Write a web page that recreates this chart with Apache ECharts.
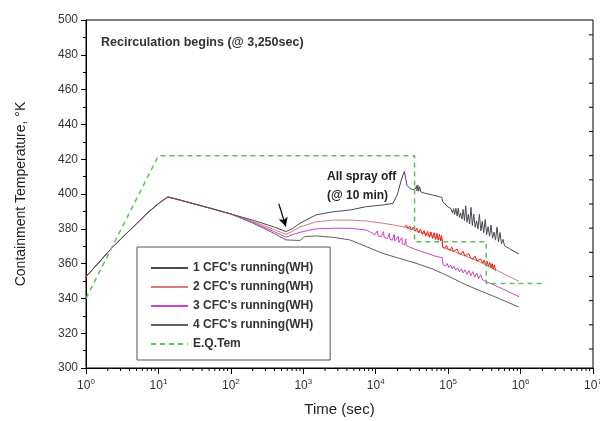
<!DOCTYPE html>
<html><head><meta charset="utf-8">
<script src="https://cdn.jsdelivr.net/npm/echarts@6/dist/echarts.min.js"></script>
<style>html,body{margin:0;padding:0;background:#fff}#c{width:600px;height:421px}</style>
</head><body><div id="c"></div>
<script>
const FONT = '"Liberation Sans", Arial, sans-serif';

const seriesNames = ["1 CFC's running(WH)", "2 CFC's running(WH)", "3 CFC's running(WH)", "4 CFC's running(WH)", "E.Q.Tem"];

// [time (sec), temperature (K)]
const cfc1 = [[1,352.5],[1.5,360.5],[2,366.5],[3,374],[5,383],[7,389],[10,394.5],[13.5,398.3],[20,396.5],[30,394.5],[50,392],[100,388.5],
  [200,385],[400,381],[575,378.4],[700,380],[900,383.2],[1500,388],[2600,389.8],[4400,390.8],[7400,392.7],[12500,393.7],[17300,394.6],
  [20000,400],[22500,408],[24800,413],[27000,405],[30000,403],[33000,402.5],[35500,403.2],[36500,404.8],[37200,401.8],[38200,405.2],
  [39200,401.6],[40500,404.2],[42000,401.2],[47200,400.5],[60000,399.5],[76000,398.4],[82000,398],[84000,395.6],[100000,392.5],
  [110000,391.5],[115000,389],
  [119000,391.6],[123000,388.2],[128000,391.8],[133000,387.3],[138000,391.9],[143000,386.5],[149000,389.1],[155000,385.6],
  [161000,391.2],[168000,384.7],[175000,393.2],[182000,383.8],[190000,388.3],[198000,382.8],[207000,392.3],[216000,381.9],
  [226000,388.4],[236000,380.9],[247000,384.4],[258000,379.9],[270000,388.3],[283000,378.8],[296000,384.3],[310000,377.8],
  [325000,385.3],[340000,376.7],[356000,381.2],[373000,375.7],[391000,382.2],[410000,374.6],[430000,378.1],[451000,373.5],
  [473000,381.0],[496000,372.5],[520000,377.9],[545000,371.4],[572000,373.9],[600000,370.3],[633000,369.7],[700000,368.6],[950000,365.5]];

const cfc2 = [[1,352.5],[1.5,360.5],[2,366.5],[3,374],[5,383],[7,389],[10,394.5],[13.5,398.3],[20,396.5],[30,394.5],[50,392],[100,388.5],
  [200,384.3],[400,379.5],[575,376.8],[700,378.5],[900,381],[1500,384],[2600,385],[4400,385],[7400,384.5],[12500,383.2],[20000,381.8],
  [25000,381],[35000,379],[50000,376.8],[65000,375.3],[83000,373.6],[84000,369.4],[100000,368.2],[150000,365.4],[220000,362.6],
  [300000,360.2],[460000,356.3],[600000,354],[865000,350.6],[950000,349.8]];

const cfc2Noise = [[25000,381.0],[26500,382.2],[28000,380.2],[29500,381.6],[31000,379.4],[33000,381.0],[35000,378.6],[37000,380.4],
  [39000,377.6],[41500,379.8],[44000,376.8],[46500,379.0],[49000,375.8],[52000,378.6],[55000,375.0],[58000,378.2],[61000,374.4],
  [64000,377.8],[67000,373.8],[70000,377.4],[73000,373.4],[76000,377.0],[79000,373.0],[81000,376.0],[83000,373.0],[84000,369.4],
  [90000,368.8],[95000,370.5],[100000,368.2],[107000,367.7],[112000,369.6],[118000,367.0],[125000,366.6],[133000,368.4],
  [140000,365.9],[150000,365.4],[160000,367.1],[170000,364.5],[180000,364.1],[192000,365.8],[205000,363.2],[220000,362.6],
  [235000,364.2],[250000,361.6],[265000,361.1],[282000,362.6],[300000,360.2],[315000,362.0],[330000,359.0],[345000,361.4],
  [360000,358.4],[375000,360.8],[390000,357.6],[405000,360.0],[420000,356.8],[435000,359.2],[450000,356.0],[460000,356.3]];

const cfc3 = [[1,352.5],[1.5,360.5],[2,366.5],[3,374],[5,383],[7,389],[10,394.5],[13.5,398.3],[20,396.5],[30,394.5],[50,392],[100,388.5],
  [200,383.8],[400,378.3],[575,375.2],[700,376.5],[900,378],[1500,380],[2600,380.3],[4400,380.3],[7400,379.3],[9000,377.5],
  [9600,376.4],[10500,378.8],[10800,376.0],[12000,375.4],[12800,378.4],[13100,375.0],[14500,374.4],[15400,377.6],[15700,374.0],
  [17000,373.4],[18000,376.8],[18300,373.0],[19500,372.5],[20500,375.8],[20800,372.1],[22000,371.7],[23000,375.0],[23300,371.3],
  [25000,370.8],[26000,374.2],[26300,370.4],[28000,369.9],[29000,369.6],[35000,368.2],[50000,366],[70000,364],[83000,363.4],
  [85000,359.5],[88000,360.6],[92000,358.6],[97000,360.0],[102000,357.8],[108000,359.2],[114000,357.0],[120000,358.4],
  [127000,356.2],[135000,357.6],[143000,355.4],[152000,357.0],[161000,354.6],[171000,356.4],[182000,353.8],[194000,356.0],
  [206000,353.0],[219000,355.4],[233000,352.2],[248000,354.6],[264000,351.4],[281000,353.6],[300000,350.6],[320000,350.0],
  [500000,346.5],[950000,341]];

const cfc4 = [[1,352.5],[1.5,360.5],[2,366.5],[3,374],[5,383],[7,389],[10,394.5],[13.5,398.3],[20,396.5],[30,394.5],[50,392],[100,388.5],
  [200,383.3],[400,377.3],[575,373.6],[900,373.3],[1050,375.5],[1500,375.9],[2600,375.1],[4400,373.6],[7400,369.8],[12500,365.9],
  [21300,363],[36000,360.2],[60000,357],[83000,354.4],[85000,355],[90000,353.8],[178000,347.7],[500000,340],[950000,335]];

const eqTem = [[1,340],[10,422],[34400,422],[34400,372.5],[336000,372.5],[336000,348.5],[2200000,348.5]];

const yMin = 300, yMax = 500, yStep = 20;
const xMin = 1, xMax = 1e7;
const rightTicksF = [100,125,150,175,200,225,250,275,300,325,350,375,400,425];
const minorX = [];
for (let e = 0; e < 7; e++) for (let k = 2; k <= 9; k++) minorX.push([k * Math.pow(10, e)]);
const arrowFrom = [460, 394.3], arrowTo = [574, 381.3];

const chart = echarts.init(document.getElementById('c'), null, {renderer: 'canvas'});

const lineBase = (name, data, color, z) => ({
  name, type: 'line', data, symbol: 'none', showSymbol: false, smooth: false, z,
  lineStyle: {color, width: 1}, itemStyle: {color}, animation: false
});

chart.setOption({
  animation: false,
  backgroundColor: '#fff',
  textStyle: {fontFamily: FONT},
  grid: {left: 86, right: 7, top: 20, bottom: 53, outerBoundsMode: 'none', containLabel: false,
    show: true, borderColor: '#000', borderWidth: 1, backgroundColor: 'transparent'},
  xAxis: {
    type: 'log', logBase: 10, min: xMin, max: xMax, splitNumber: 7,
    name: 'Time (sec)', nameLocation: 'middle', nameGap: 34,
    nameTextStyle: {fontSize: 15, color: '#222', fontFamily: FONT},
    axisLine: {lineStyle: {color: '#000', width: 1}},
    axisTick: {inside: false, length: 6, lineStyle: {color: '#000'}},
    splitLine: {show: false},
    axisLabel: {
      margin: 10, color: '#333', fontFamily: FONT,
      formatter: v => '{b|10}{s|' + Math.round(Math.log10(v)) + '}',
      rich: {b: {fontSize: 12, color: '#333', fontFamily: FONT}, s: {fontSize: 8, color: '#333', fontFamily: FONT, verticalAlign: 'bottom', padding: [0, 0, 7, 0]}}
    }
  },
  yAxis: {
    type: 'value', min: yMin, max: yMax, interval: yStep,
    name: 'Containment Temperature, °K', nameLocation: 'middle', nameGap: 58,
    nameTextStyle: {fontSize: 14, color: '#222', fontFamily: FONT},
    axisLine: {show: true, lineStyle: {color: '#000', width: 1}},
    axisTick: {inside: false, length: 5, lineStyle: {color: '#000'}},
    minorTick: {show: true, splitNumber: 2, length: 3, lineStyle: {color: '#000'}},
    splitLine: {show: false},
    axisLabel: {margin: 8, fontSize: 12, color: '#333', fontFamily: FONT}
  },
  legend: {
    data: seriesNames, orient: 'vertical', left: 137, top: 247,
    padding: [15, 17, 10, 13], itemGap: 7, itemWidth: 37, itemHeight: 11,
    itemStyle: {opacity: 0},
    borderColor: '#555', borderWidth: 1, backgroundColor: '#fff',
    textStyle: {fontSize: 12, fontWeight: 'bold', color: '#333', fontFamily: FONT}
  },
  graphic: [
    {type: 'text', left: 101, top: 36, style: {text: 'Recirculation begins (@ 3,250sec)', font: 'bold 12.5px ' + FONT, fill: '#333'}},
    {type: 'text', left: 327, top: 171, style: {text: 'All spray off', font: 'bold 12px ' + FONT, fill: '#222'}},
    {type: 'text', left: 327, top: 190, style: {text: '(@ 10 min)', font: 'bold 12px ' + FONT, fill: '#222'}}
  ],
  series: [
    lineBase(seriesNames[3], cfc4, '#606060', 2),
    lineBase(seriesNames[2], cfc3, '#c848c8', 3),
    lineBase(seriesNames[1], cfc2, '#d87a7a', 4),
    {type: 'line', name: 'cfc2noise', data: cfc2Noise, symbol: 'none', z: 5, lineStyle: {color: '#e82010', width: 1}, animation: false},
    Object.assign(lineBase(seriesNames[0], cfc1, '#4a4a52', 6), {
      markLine: {silent: true, symbol: ['none', 'arrow'], symbolSize: [7, 9], animation: false,
        label: {show: false}, lineStyle: {color: '#000', width: 1.2, type: 'solid'},
        data: [[{coord: arrowFrom}, {coord: arrowTo}]]}
    }),
    {name: seriesNames[4], type: 'line', data: eqTem, symbol: 'none', z: 7, animation: false,
      lineStyle: {color: '#5cc05c', width: 1.5, type: [5, 4]}, itemStyle: {color: '#5cc05c'}},
    {type: 'custom', name: 'minorX', data: minorX, z: 8, silent: true, clip: false,
      renderItem: (params, api) => {
        const p = api.coord([api.value(0), yMin]);
        return {type: 'line', shape: {x1: p[0], y1: p[1], x2: p[0], y2: p[1] + 3}, style: {stroke: '#000', lineWidth: 1}};
      }},
    {type: 'custom', name: 'rightTicks', data: rightTicksF.map(f => [f]), z: 8, silent: true, clip: false,
      renderItem: (params, api) => {
        const k = (api.value(0) - 32) * 5 / 9 + 273.15;
        const p = api.coord([xMax, k]);
        return {type: 'line', shape: {x1: p[0], y1: p[1], x2: p[0] - 4, y2: p[1]}, style: {stroke: '#000', lineWidth: 1}};
      }}
  ]
});
</script></body></html>
